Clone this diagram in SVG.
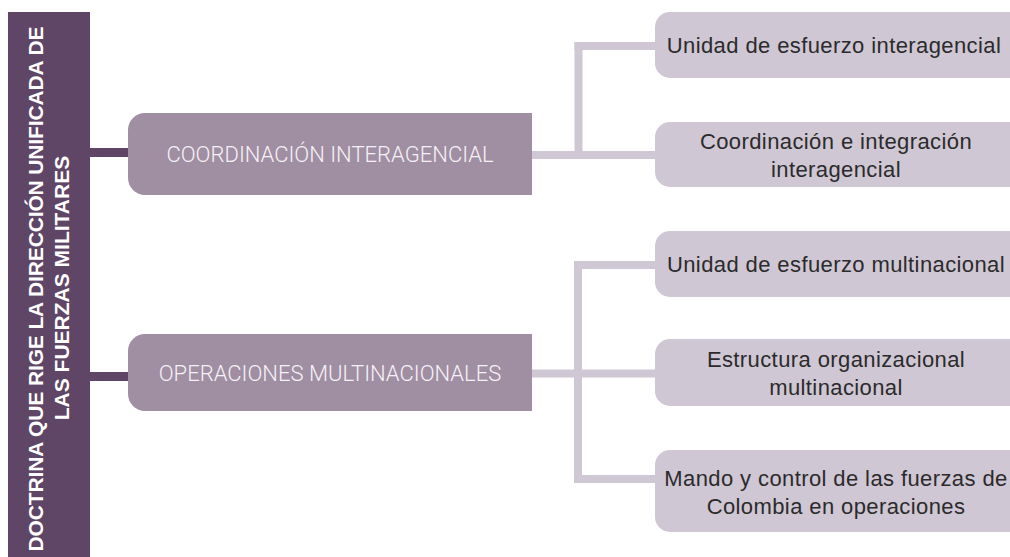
<svg xmlns="http://www.w3.org/2000/svg" width="1010" height="557" viewBox="0 0 1010 557">
<style>
.dark{fill:#5f4566}
.mid{fill:#a08ea3}
.light{fill:#cfc7d4}
.lk-dark{stroke:#5f4566;stroke-width:9;fill:none}
.lk-light{stroke:#cfc7d4;stroke-width:8;fill:none}
.root-t{font-family:"Liberation Sans",Arial,sans-serif;font-weight:bold;font-size:21px;fill:#ffffff;text-anchor:middle}
.mid-t{font-family:Roboto,"Liberation Sans",sans-serif;font-weight:300;font-size:22px;fill:#f6f1f6;text-anchor:middle}
.leaf-t{font-family:"Liberation Sans",Arial,sans-serif;font-size:22px;fill:#2b2b2b;text-anchor:middle;letter-spacing:0.4px}
</style>
<rect width="1010" height="557" fill="#ffffff"/>
<g id="connectors">
<line class="lk-dark" x1="90" y1="152.5" x2="130" y2="152.5"/>
<line class="lk-dark" x1="90" y1="376.5" x2="130" y2="376.5"/>
<line class="lk-light" x1="530" y1="155" x2="658" y2="155"/>
<line class="lk-light" x1="578.5" y1="159" x2="578.5" y2="42"/>
<line class="lk-light" x1="574.5" y1="46" x2="658" y2="46"/>
<line class="lk-light" x1="530" y1="373.5" x2="658" y2="373.5"/>
<line class="lk-light" x1="578" y1="261" x2="578" y2="483"/>
<line class="lk-light" x1="574" y1="265" x2="658" y2="265"/>
<line class="lk-light" x1="574" y1="479" x2="658" y2="479"/>
</g>
<g id="root">
<rect class="dark" x="8" y="12" width="82" height="560"/>
<text class="root-t" transform="translate(43,289) rotate(-90)" textLength="525">DOCTRINA QUE RIGE LA DIRECCIÓN UNIFICADA DE</text>
<text class="root-t" transform="translate(69,288) rotate(-90)">LAS FUERZAS MILITARES</text>
</g>
<g id="coordinacion">
<path class="mid" d="M145,113 H532 V195 H145 A17,17 0 0 1 128,178 V130 A17,17 0 0 1 145,113 Z"/>
<text class="mid-t" x="330" y="162">COORDINACIÓN INTERAGENCIAL</text>
</g>
<g id="operaciones">
<path class="mid" d="M145,334 H532 V411 H145 A17,17 0 0 1 128,394 V351 A17,17 0 0 1 145,334 Z"/>
<text class="mid-t" x="330" y="381">OPERACIONES MULTINACIONALES</text>
</g>
<g id="leaf1">
<path class="light" d="M670,12 H1020 V78 H670 A15,15 0 0 1 655,63 V27 A15,15 0 0 1 670,12 Z"/>
<text class="leaf-t" x="834" y="53">Unidad de esfuerzo interagencial</text>
</g>
<g id="leaf2">
<path class="light" d="M670,122 H1020 V187 H670 A15,15 0 0 1 655,172 V137 A15,15 0 0 1 670,122 Z"/>
<text class="leaf-t" x="836" y="149">Coordinación e integración</text>
<text class="leaf-t" x="836" y="177">interagencial</text>
</g>
<g id="leaf3">
<path class="light" d="M670,231 H1020 V297 H670 A15,15 0 0 1 655,282 V246 A15,15 0 0 1 670,231 Z"/>
<text class="leaf-t" x="836" y="272">Unidad de esfuerzo multinacional</text>
</g>
<g id="leaf4">
<path class="light" d="M670,339 H1020 V406 H670 A15,15 0 0 1 655,391 V354 A15,15 0 0 1 670,339 Z"/>
<text class="leaf-t" x="836" y="367">Estructura organizacional</text>
<text class="leaf-t" x="836" y="395">multinacional</text>
</g>
<g id="leaf5">
<path class="light" d="M670,450 H1020 V532 H670 A15,15 0 0 1 655,517 V465 A15,15 0 0 1 670,450 Z"/>
<text class="leaf-t" x="836" y="486">Mando y control de las fuerzas de</text>
<text class="leaf-t" x="836" y="514">Colombia en operaciones</text>
</g>
</svg>
